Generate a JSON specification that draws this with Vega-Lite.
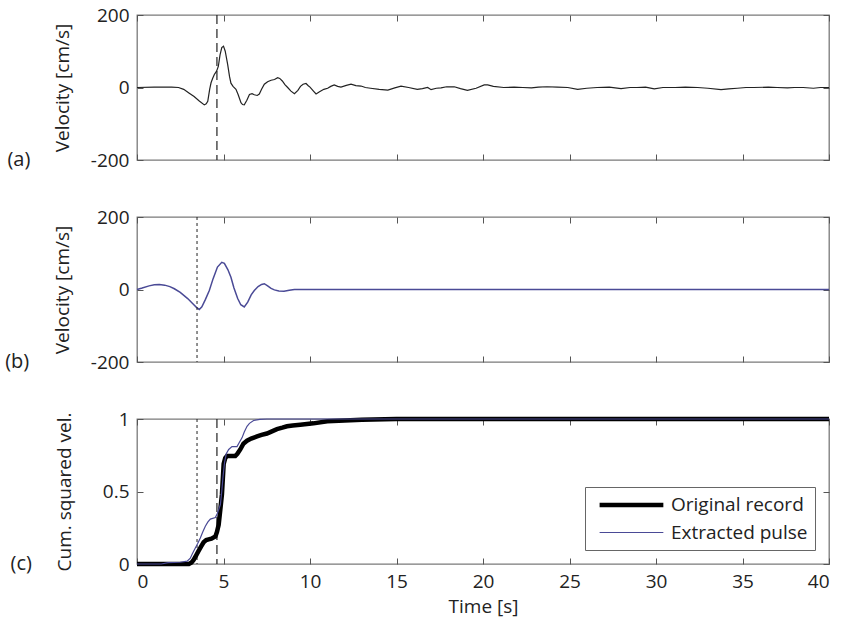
{
  "$schema": "https://vega.github.io/schema/vega-lite/v6.json",
  "background": "white",
  "padding": {"left": 4, "top": 5, "right": 4, "bottom": 5},
  "bounds": "flush",
  "spacing": 57,
  "resolve": {"scale": {"color": "independent", "strokeWidth": "independent"}},
  "config": {
    "font": "Open Sans",
    "view": {"stroke": "#7a7a7a", "strokeWidth": 1.3},
    "axis": {"domain": false, "grid": false, "tickSize": -6, "tickColor": "#555", "tickWidth": 1,
      "labelFontSize": 19, "labelColor": "#222", "labelPadding": 14,
      "titleFontSize": 19, "titleFontWeight": "normal", "titleColor": "#222"},
    "legend": {"orient": "bottom-right", "offset": 14, "strokeColor": "#666", "fillColor": "white",
      "padding": 7, "symbolType": "M-0.4,0H7.1", "symbolSize": 289, "labelFontSize": 19, "labelColor": "#222",
      "rowPadding": 8, "labelOffset": 57}
  },
  "datasets": {
    "a": [
      {"t": 0, "v": 0}, {"t": 1, "v": 1}, {"t": 2, "v": 1}, {"t": 2.4, "v": 0}, {"t": 2.7, "v": -5},
      {"t": 3.0, "v": -15}, {"t": 3.3, "v": -25}, {"t": 3.6, "v": -37}, {"t": 3.89, "v": -48}, {"t": 4.0, "v": -45},
      {"t": 4.09, "v": -38}, {"t": 4.2, "v": -5}, {"t": 4.28, "v": 13}, {"t": 4.37, "v": 25}, {"t": 4.47, "v": 36},
      {"t": 4.6, "v": 45}, {"t": 4.7, "v": 58}, {"t": 4.8, "v": 90}, {"t": 4.9, "v": 110}, {"t": 5.0, "v": 114},
      {"t": 5.1, "v": 100}, {"t": 5.24, "v": 64}, {"t": 5.35, "v": 30}, {"t": 5.43, "v": 12}, {"t": 5.55, "v": 3},
      {"t": 5.72, "v": -5}, {"t": 5.85, "v": -20}, {"t": 6.01, "v": -42}, {"t": 6.1, "v": -47}, {"t": 6.2, "v": -48},
      {"t": 6.35, "v": -35}, {"t": 6.5, "v": -19}, {"t": 6.65, "v": -17}, {"t": 6.78, "v": -20}, {"t": 6.95, "v": -22},
      {"t": 7.07, "v": -18}, {"t": 7.2, "v": -5}, {"t": 7.36, "v": 9}, {"t": 7.55, "v": 16}, {"t": 7.75, "v": 20},
      {"t": 7.95, "v": 22}, {"t": 8.13, "v": 27}, {"t": 8.25, "v": 25}, {"t": 8.4, "v": 18}, {"t": 8.55, "v": 8},
      {"t": 8.71, "v": 0}, {"t": 8.9, "v": -10}, {"t": 9.1, "v": -17}, {"t": 9.3, "v": -8}, {"t": 9.45, "v": 3},
      {"t": 9.6, "v": 9}, {"t": 9.77, "v": 11}, {"t": 9.9, "v": 5}, {"t": 10.0, "v": 1}, {"t": 10.2, "v": -10},
      {"t": 10.35, "v": -18}, {"t": 10.55, "v": -12}, {"t": 10.8, "v": -5}, {"t": 11.02, "v": -2}, {"t": 11.2, "v": 3},
      {"t": 11.4, "v": 7}, {"t": 11.6, "v": 3}, {"t": 11.79, "v": 1}, {"t": 12.1, "v": 6}, {"t": 12.37, "v": 9},
      {"t": 12.65, "v": 5}, {"t": 12.95, "v": 4}, {"t": 13.2, "v": 0}, {"t": 13.5, "v": -2}, {"t": 14.0, "v": -5},
      {"t": 14.5, "v": -7}, {"t": 14.9, "v": -1}, {"t": 15.26, "v": 4}, {"t": 15.7, "v": 0}, {"t": 16.2, "v": -5},
      {"t": 16.5, "v": -3}, {"t": 16.8, "v": 0}, {"t": 17.0, "v": -6}, {"t": 17.3, "v": -2}, {"t": 17.57, "v": -1},
      {"t": 17.9, "v": 2}, {"t": 18.34, "v": 2}, {"t": 18.7, "v": -3}, {"t": 19.1, "v": -8}, {"t": 19.6, "v": -2},
      {"t": 20.07, "v": 7}, {"t": 20.27, "v": 7}, {"t": 20.6, "v": 3}, {"t": 21.2, "v": 0}, {"t": 21.8, "v": 1},
      {"t": 22.3, "v": 0}, {"t": 22.8, "v": -1}, {"t": 23.2, "v": 1}, {"t": 23.7, "v": 2}, {"t": 24.3, "v": 1},
      {"t": 24.9, "v": 0}, {"t": 25.47, "v": -5}, {"t": 26.0, "v": -2}, {"t": 26.6, "v": 0}, {"t": 27.3, "v": 1},
      {"t": 27.98, "v": -3}, {"t": 28.5, "v": 0}, {"t": 28.9, "v": 0}, {"t": 29.4, "v": 1}, {"t": 29.9, "v": -4},
      {"t": 30.4, "v": 0}, {"t": 31.1, "v": 0}, {"t": 31.7, "v": 1}, {"t": 32.4, "v": 0}, {"t": 33.0, "v": -2},
      {"t": 33.76, "v": -6}, {"t": 34.2, "v": -4}, {"t": 34.7, "v": -2}, {"t": 35.2, "v": 0}, {"t": 35.65, "v": 0},
      {"t": 36.5, "v": 1}, {"t": 37.0, "v": 0}, {"t": 37.6, "v": -1}, {"t": 38.0, "v": 0}, {"t": 38.5, "v": 0},
      {"t": 39.1, "v": -2}, {"t": 39.5, "v": 0}, {"t": 40, "v": 0}
    ],
    "b": [
      {"t": 0, "v": 0}, {"t": 0.3, "v": 4}, {"t": 0.7, "v": 10}, {"t": 1.0, "v": 13}, {"t": 1.29, "v": 14},
      {"t": 1.6, "v": 12}, {"t": 1.9, "v": 8}, {"t": 2.16, "v": 2}, {"t": 2.5, "v": -8}, {"t": 2.93, "v": -25},
      {"t": 3.2, "v": -38}, {"t": 3.45, "v": -50}, {"t": 3.6, "v": -55}, {"t": 3.75, "v": -48}, {"t": 3.95, "v": -28},
      {"t": 4.18, "v": -3}, {"t": 4.4, "v": 30}, {"t": 4.65, "v": 62}, {"t": 4.9, "v": 75}, {"t": 5.05, "v": 72},
      {"t": 5.25, "v": 55}, {"t": 5.43, "v": 34}, {"t": 5.6, "v": 5}, {"t": 5.82, "v": -25}, {"t": 6.0, "v": -42},
      {"t": 6.2, "v": -48}, {"t": 6.4, "v": -35}, {"t": 6.6, "v": -15}, {"t": 6.78, "v": -3}, {"t": 7.0, "v": 8},
      {"t": 7.2, "v": 14}, {"t": 7.36, "v": 16}, {"t": 7.55, "v": 10}, {"t": 7.75, "v": 3}, {"t": 7.94, "v": -1},
      {"t": 8.2, "v": -4}, {"t": 8.5, "v": -5}, {"t": 8.8, "v": -2}, {"t": 9.1, "v": 0}, {"t": 10, "v": 0},
      {"t": 40, "v": 0}
    ],
    "c": [
      {"s": "Original record", "t": 0, "v": 0}, {"s": "Original record", "t": 3.0, "v": 0},
      {"s": "Original record", "t": 3.15, "v": 0.01}, {"s": "Original record", "t": 3.28, "v": 0.03},
      {"s": "Original record", "t": 3.42, "v": 0.06}, {"s": "Original record", "t": 3.56, "v": 0.09},
      {"s": "Original record", "t": 3.7, "v": 0.12}, {"s": "Original record", "t": 3.85, "v": 0.15},
      {"s": "Original record", "t": 4.0, "v": 0.165}, {"s": "Original record", "t": 4.14, "v": 0.17},
      {"s": "Original record", "t": 4.3, "v": 0.175}, {"s": "Original record", "t": 4.53, "v": 0.19},
      {"s": "Original record", "t": 4.62, "v": 0.22}, {"s": "Original record", "t": 4.72, "v": 0.27},
      {"s": "Original record", "t": 4.82, "v": 0.38}, {"s": "Original record", "t": 4.91, "v": 0.48},
      {"s": "Original record", "t": 5.01, "v": 0.69}, {"s": "Original record", "t": 5.1, "v": 0.73},
      {"s": "Original record", "t": 5.2, "v": 0.745}, {"s": "Original record", "t": 5.68, "v": 0.745},
      {"s": "Original record", "t": 5.8, "v": 0.76}, {"s": "Original record", "t": 5.97, "v": 0.79},
      {"s": "Original record", "t": 6.15, "v": 0.83}, {"s": "Original record", "t": 6.36, "v": 0.85},
      {"s": "Original record", "t": 6.6, "v": 0.865}, {"s": "Original record", "t": 6.94, "v": 0.88},
      {"s": "Original record", "t": 7.2, "v": 0.89}, {"s": "Original record", "t": 7.51, "v": 0.9},
      {"s": "Original record", "t": 7.8, "v": 0.915}, {"s": "Original record", "t": 8.09, "v": 0.93},
      {"s": "Original record", "t": 8.4, "v": 0.94}, {"s": "Original record", "t": 8.67, "v": 0.95},
      {"s": "Original record", "t": 9.0, "v": 0.955}, {"s": "Original record", "t": 9.44, "v": 0.96},
      {"s": "Original record", "t": 10.2, "v": 0.97}, {"s": "Original record", "t": 11.0, "v": 0.985},
      {"s": "Original record", "t": 12, "v": 0.99}, {"s": "Original record", "t": 13, "v": 0.995},
      {"s": "Original record", "t": 15, "v": 1.0}, {"s": "Original record", "t": 40, "v": 1.0},
      {"s": "Extracted pulse", "t": 0, "v": 0}, {"s": "Extracted pulse", "t": 1.4, "v": 0},
      {"s": "Extracted pulse", "t": 1.8, "v": 0.01}, {"s": "Extracted pulse", "t": 2.5, "v": 0.012},
      {"s": "Extracted pulse", "t": 2.9, "v": 0.02}, {"s": "Extracted pulse", "t": 3.08, "v": 0.04},
      {"s": "Extracted pulse", "t": 3.2, "v": 0.07}, {"s": "Extracted pulse", "t": 3.37, "v": 0.11},
      {"s": "Extracted pulse", "t": 3.5, "v": 0.14}, {"s": "Extracted pulse", "t": 3.66, "v": 0.18},
      {"s": "Extracted pulse", "t": 3.8, "v": 0.22}, {"s": "Extracted pulse", "t": 3.95, "v": 0.26},
      {"s": "Extracted pulse", "t": 4.1, "v": 0.29}, {"s": "Extracted pulse", "t": 4.24, "v": 0.31},
      {"s": "Extracted pulse", "t": 4.53, "v": 0.32}, {"s": "Extracted pulse", "t": 4.65, "v": 0.35},
      {"s": "Extracted pulse", "t": 4.82, "v": 0.41}, {"s": "Extracted pulse", "t": 4.9, "v": 0.5},
      {"s": "Extracted pulse", "t": 4.97, "v": 0.6}, {"s": "Extracted pulse", "t": 5.06, "v": 0.7},
      {"s": "Extracted pulse", "t": 5.16, "v": 0.76}, {"s": "Extracted pulse", "t": 5.3, "v": 0.79},
      {"s": "Extracted pulse", "t": 5.49, "v": 0.81}, {"s": "Extracted pulse", "t": 5.78, "v": 0.81},
      {"s": "Extracted pulse", "t": 5.92, "v": 0.84}, {"s": "Extracted pulse", "t": 6.07, "v": 0.87},
      {"s": "Extracted pulse", "t": 6.2, "v": 0.91}, {"s": "Extracted pulse", "t": 6.36, "v": 0.95},
      {"s": "Extracted pulse", "t": 6.5, "v": 0.97}, {"s": "Extracted pulse", "t": 6.74, "v": 0.99},
      {"s": "Extracted pulse", "t": 7.1, "v": 0.997}, {"s": "Extracted pulse", "t": 7.5, "v": 1.0},
      {"s": "Extracted pulse", "t": 40, "v": 1.0}
    ]
  },
  "vconcat": [
    {
      "width": 692, "height": 145,
      "title": {"text": "(a)", "orient": "left", "anchor": "start", "frame": "group", "angle": 0, "align": "right", "baseline": "middle", "offset": 0, "fontSize": 20, "fontWeight": "normal", "color": "#222"},
      "layer": [
        {"data": {"name": "a"}, "mark": {"type": "line", "color": "#222", "strokeWidth": 1.2},
          "encoding": {
            "x": {"field": "t", "type": "quantitative", "scale": {"domain": [0, 40], "nice": false}, "axis": {"values": [0, 5, 10, 15, 20, 25, 30, 35, 40], "labels": false, "title": null}},
            "y": {"field": "v", "type": "quantitative", "scale": {"domain": [-200, 200], "nice": false}, "axis": {"values": [-200, 0, 200], "title": "Velocity [cm/s]", "labelExpr": "'' + datum.value", "titlePadding": 18}}
          }},
        {"data": {"name": "a"}, "mark": {"type": "line", "strokeOpacity": 0},
          "encoding": {
            "x": {"field": "t", "type": "quantitative", "axis": {"orient": "top", "values": [0, 5, 10, 15, 20, 25, 30, 35, 40], "labels": false, "title": null}},
            "y": {"field": "v", "type": "quantitative", "axis": {"orient": "right", "values": [-200, 0, 200], "labels": false, "title": null}}
          }},
        {"data": {"values": [{"tm": 4.62}]}, "mark": {"type": "rule", "strokeDash": [9, 5], "color": "#222", "strokeWidth": 1.2},
          "encoding": {"x": {"field": "tm", "type": "quantitative", "axis": null}}}
      ],
      "resolve": {"axis": {"x": "independent", "y": "independent"}}
    },
    {
      "width": 692, "height": 145,
      "title": {"text": "(b)", "orient": "left", "anchor": "start", "frame": "group", "angle": 0, "align": "right", "baseline": "middle", "offset": 0, "fontSize": 20, "fontWeight": "normal", "color": "#222"},
      "layer": [
        {"data": {"name": "b"}, "mark": {"type": "line", "color": "#4a4a96", "strokeWidth": 1.5},
          "encoding": {
            "x": {"field": "t", "type": "quantitative", "scale": {"domain": [0, 40], "nice": false}, "axis": {"values": [0, 5, 10, 15, 20, 25, 30, 35, 40], "labels": false, "title": null}},
            "y": {"field": "v", "type": "quantitative", "scale": {"domain": [-200, 200], "nice": false}, "axis": {"values": [-200, 0, 200], "title": "Velocity [cm/s]", "labelExpr": "'' + datum.value", "titlePadding": 18}}
          }},
        {"data": {"name": "b"}, "mark": {"type": "line", "strokeOpacity": 0},
          "encoding": {
            "x": {"field": "t", "type": "quantitative", "axis": {"orient": "top", "values": [0, 5, 10, 15, 20, 25, 30, 35, 40], "labels": false, "title": null}},
            "y": {"field": "v", "type": "quantitative", "axis": {"orient": "right", "values": [-200, 0, 200], "labels": false, "title": null}}
          }},
        {"data": {"values": [{"tm": 3.47}]}, "mark": {"type": "rule", "strokeDash": [3, 3], "color": "#222", "strokeWidth": 1},
          "encoding": {"x": {"field": "tm", "type": "quantitative", "axis": null}}}
      ],
      "resolve": {"axis": {"x": "independent", "y": "independent"}}
    },
    {
      "width": 692, "height": 145,
      "title": {"text": "(c)", "orient": "left", "anchor": "start", "frame": "group", "angle": 0, "align": "right", "baseline": "middle", "offset": 2, "fontSize": 20, "fontWeight": "normal", "color": "#222"},
      "layer": [
        {"data": {"values": [{"tm": 3.47}]}, "mark": {"type": "rule", "strokeDash": [3, 3], "color": "#222", "strokeWidth": 1},
          "encoding": {"x": {"field": "tm", "type": "quantitative", "axis": null}}},
        {"data": {"values": [{"tm": 4.62}]}, "mark": {"type": "rule", "strokeDash": [9, 5], "color": "#222", "strokeWidth": 1.2},
          "encoding": {"x": {"field": "tm", "type": "quantitative", "axis": null}}},
        {"data": {"name": "c"}, "mark": {"type": "line"},
          "encoding": {
            "x": {"field": "t", "type": "quantitative", "scale": {"domain": [0, 40], "nice": false}, "axis": {"values": [0, 5, 10, 15, 20, 25, 30, 35, 40], "title": "Time [s]", "titlePadding": 6}},
            "y": {"field": "v", "type": "quantitative", "scale": {"domain": [0, 1], "nice": false}, "axis": {"values": [0, 0.5, 1], "title": "Cum. squared vel.", "format": "~g", "titlePadding": 28}},
            "color": {"field": "s", "type": "nominal", "scale": {"domain": ["Original record", "Extracted pulse"], "range": ["#000000", "#4a4a96"]}, "legend": {"title": null}},
            "strokeWidth": {"field": "s", "type": "nominal", "scale": {"domain": ["Original record", "Extracted pulse"], "range": [4.5, 1.2]}, "legend": {"title": null}}
          }},
        {"data": {"name": "c"}, "mark": {"type": "line", "strokeOpacity": 0},
          "encoding": {
            "x": {"field": "t", "type": "quantitative", "axis": {"orient": "top", "values": [0, 5, 10, 15, 20, 25, 30, 35, 40], "labels": false, "title": null}},
            "y": {"field": "v", "type": "quantitative", "axis": {"orient": "right", "values": [0, 0.5, 1], "labels": false, "title": null}},
            "detail": {"field": "s", "type": "nominal"}
          }}
      ],
      "resolve": {"axis": {"x": "independent", "y": "independent"}}
    }
  ]
}
